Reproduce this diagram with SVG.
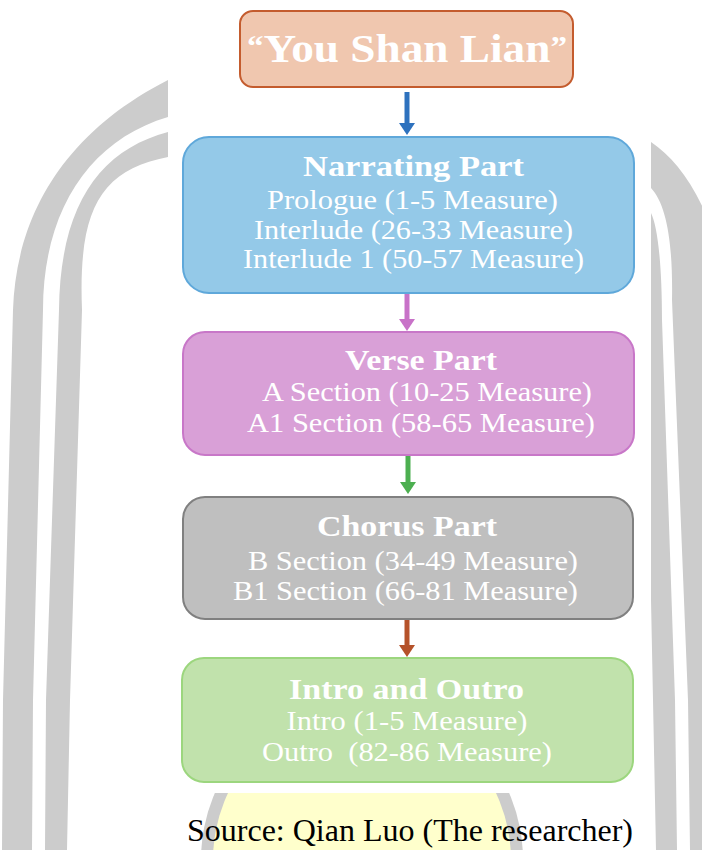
<svg xmlns="http://www.w3.org/2000/svg" width="702" height="850" viewBox="0 0 702 850">
<style>
  .band { fill: #CCCCCC; }
  .ttl { font-family: "Liberation Serif", "Times New Roman", serif; font-weight: bold; font-size: 30px; fill: #FFFFFF; text-anchor: middle; }
  .ln { font-family: "Liberation Serif", "Times New Roman", serif; font-size: 27px; fill: #FFFFFF; text-anchor: middle; }
  .box { stroke-width: 2; }
  .arr { stroke-width: 5; fill: none; }
  .src { font-family: "Liberation Serif", "Times New Roman", serif; font-size: 32px; fill: #000000; }
</style>
<defs>
  <marker id="hBlue" markerUnits="userSpaceOnUse" markerWidth="13" markerHeight="16" refX="1" refY="8" orient="auto"><path d="M0,0 L12,8 L0,16 Z" fill="#2E72BE"/></marker>
  <marker id="hPurple" markerUnits="userSpaceOnUse" markerWidth="13" markerHeight="16" refX="1" refY="8" orient="auto"><path d="M0,0 L12,8 L0,16 Z" fill="#C872C8"/></marker>
  <marker id="hGreen" markerUnits="userSpaceOnUse" markerWidth="13" markerHeight="16" refX="1" refY="8" orient="auto"><path d="M0,0 L12,8 L0,16 Z" fill="#4CAF50"/></marker>
  <marker id="hBrown" markerUnits="userSpaceOnUse" markerWidth="13" markerHeight="16" refX="1" refY="8" orient="auto"><path d="M0,0 L12,8 L0,16 Z" fill="#B5522A"/></marker>
  <clipPath id="domeClip"><rect x="0" y="793" width="702" height="57"/></clipPath>
</defs>

<g id="background">
  <!-- left outer band -->
  <path class="band" d="M2,850 L3,700 L13,310 C16,220 60,135 168,80 L168,117 C90,140 43,210 43,310 L33,700 L32,850 Z"/>
  <!-- left inner band -->
  <path class="band" d="M45,850 L46,700 L59,310 C60,205 100,150 168,132 L168,157 C100,170 78,210 82,310 L70,700 L67,850 Z"/>
  <!-- right outer band -->
  <path class="band" d="M651,142 C675,158 700,190 715,240 L730,850 L690,850 L688,700 L672,300 C673,245 667,205 651,188 Z"/>
  <!-- right inner band -->
  <path class="band" d="M651,213 C657,225 662,260 662,320 L675,700 L677,850 L656,850 L653,700 L651,600 Z"/>
  <!-- bottom dome -->
  <g clip-path="url(#domeClip)">
    <ellipse cx="362" cy="860" rx="161" ry="165" fill="#CCCCCC"/>
    <ellipse cx="362" cy="860" rx="149" ry="153" fill="#FFFFCC"/>
  </g>
</g>

<g id="connectors">
  <line class="arr" x1="407" y1="92" x2="407" y2="124" stroke="#2E72BE" marker-end="url(#hBlue)"/>
  <line class="arr" x1="407" y1="294" x2="407" y2="320" stroke="#C872C8" marker-end="url(#hPurple)"/>
  <line class="arr" x1="408" y1="456" x2="408" y2="483" stroke="#4CAF50" marker-end="url(#hGreen)"/>
  <line class="arr" x1="407" y1="620" x2="407" y2="646" stroke="#B5522A" marker-end="url(#hBrown)"/>
</g>

<g id="node-title">
  <rect class="box" x="240" y="11" width="333" height="76" rx="13" fill="#F0C7AF" stroke="#C45C2E"/>
  <text x="407" y="62" font-family="Liberation Serif, Times New Roman, serif" font-weight="bold" font-size="41" fill="#FFFFFF" text-anchor="middle" textLength="320" lengthAdjust="spacingAndGlyphs"><tspan font-size="30" dy="-6">“</tspan><tspan dy="6">You Shan Lian</tspan><tspan font-size="30" dy="-6">”</tspan></text>
</g>

<g id="node-narrating">
  <rect class="box" x="183" y="137" width="451" height="156" rx="26" fill="#94C9E8" stroke="#5FA8DA"/>
  <text class="ttl" x="413.5" y="176" textLength="221" lengthAdjust="spacingAndGlyphs">Narrating Part</text>
  <text class="ln" x="412.5" y="209" textLength="291" lengthAdjust="spacingAndGlyphs">Prologue (1-5 Measure)</text>
  <text class="ln" x="413.5" y="239" textLength="319" lengthAdjust="spacingAndGlyphs">Interlude (26-33 Measure)</text>
  <text class="ln" x="413.5" y="268" textLength="341" lengthAdjust="spacingAndGlyphs">Interlude 1 (50-57 Measure)</text>
</g>

<g id="node-verse">
  <rect class="box" x="183" y="332" width="451" height="123" rx="22" fill="#D9A0D7" stroke="#C877C8"/>
  <text class="ttl" x="421" y="370" textLength="152" lengthAdjust="spacingAndGlyphs">Verse Part</text>
  <text class="ln" x="427" y="401" textLength="330" lengthAdjust="spacingAndGlyphs">A Section (10-25 Measure)</text>
  <text class="ln" x="421" y="432" textLength="348" lengthAdjust="spacingAndGlyphs">A1 Section (58-65 Measure)</text>
</g>

<g id="node-chorus">
  <rect class="box" x="183" y="497" width="450" height="122" rx="22" fill="#BFBFBF" stroke="#808080"/>
  <text class="ttl" x="407" y="536" textLength="180" lengthAdjust="spacingAndGlyphs">Chorus Part</text>
  <text class="ln" x="413" y="570" textLength="330" lengthAdjust="spacingAndGlyphs">B Section (34-49 Measure)</text>
  <text class="ln" x="405.5" y="600" textLength="345" lengthAdjust="spacingAndGlyphs">B1 Section (66-81 Measure)</text>
</g>

<g id="node-intro-outro">
  <rect class="box" x="182" y="658" width="451" height="124" rx="22" fill="#C1E2AC" stroke="#9CD67E"/>
  <text class="ttl" x="406.5" y="699" textLength="235" lengthAdjust="spacingAndGlyphs">Intro and Outro</text>
  <text class="ln" x="407" y="730" textLength="241" lengthAdjust="spacingAndGlyphs">Intro (1-5 Measure)</text>
  <text class="ln" x="407" y="761" textLength="290" lengthAdjust="spacingAndGlyphs" xml:space="preserve">Outro  (82-86 Measure)</text>
</g>

<text class="src" x="187" y="841">Source: Qian Luo (The researcher)</text>
</svg>
